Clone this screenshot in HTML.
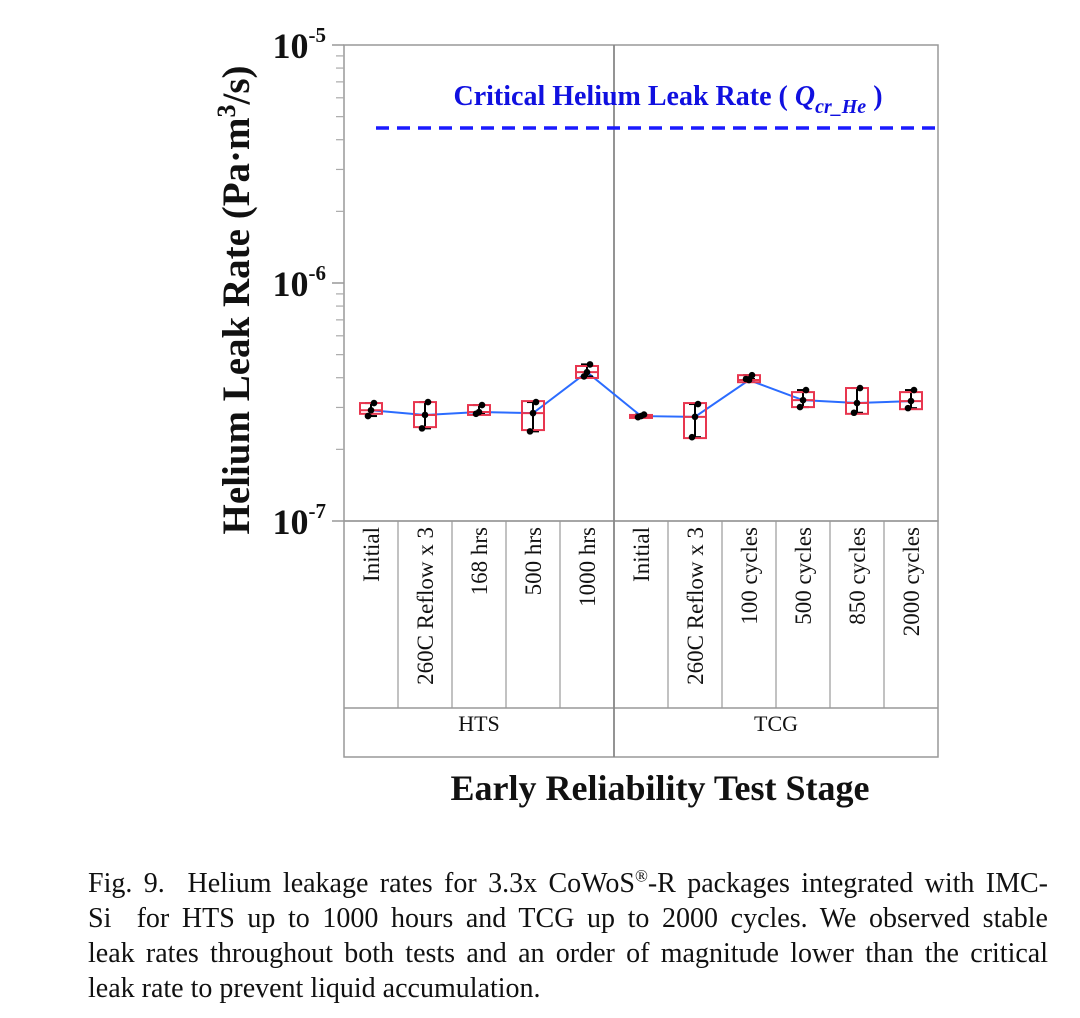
<!DOCTYPE html>
<html><head><meta charset="utf-8"><style>
body{margin:0;background:#fff;width:1080px;height:1018px;overflow:hidden;font-family:"Liberation Serif",serif}
.cap{position:absolute;left:88px;top:866px;width:960px;font-size:28px;line-height:35px;color:#111}
.cap div{text-align:justify;text-align-last:justify;white-space:nowrap}
.cap div.last{text-align-last:left}
</style></head><body>
<svg width="1080" height="860" style="position:absolute;left:0;top:0" font-family="Liberation Serif, serif">
<g id="g"></g>
</svg>
<div class="cap">
<div>Fig. 9.&nbsp; Helium leakage rates for 3.3x CoWoS<sup style="font-size:17px;line-height:0">®</sup>-R packages integrated with IMC-</div>
<div>Si&nbsp; for HTS up to 1000 hours and TCG up to 2000 cycles. We observed stable</div>
<div>leak rates throughout both tests and an order of magnitude lower than the critical</div>
<div class="last">leak rate to prevent liquid accumulation.</div>
</div>
<script>
const categories=["Initial","260C Reflow x 3","168 hrs","500 hrs","1000 hrs","Initial","260C Reflow x 3","100 cycles","500 cycles","850 cycles","2000 cycles"];
const groups=["HTS","TCG"];
const groupSizes=[5,6];
const medians=[2.92e-7,2.79e-7,2.87e-7,2.84e-7,4.22e-7,2.76e-7,2.74e-7,3.91e-7,3.22e-7,3.13e-7,3.19e-7];
const boxLow=[2.82e-7,2.48e-7,2.79e-7,2.41e-7,3.99e-7,2.71e-7,2.23e-7,3.83e-7,3.01e-7,2.82e-7,2.95e-7];
const boxHigh=[3.13e-7,3.16e-7,3.07e-7,3.19e-7,4.48e-7,2.79e-7,3.13e-7,4.10e-7,3.48e-7,3.62e-7,3.48e-7];
const pointsLow=[2.76e-7,2.45e-7,2.82e-7,2.38e-7,4.05e-7,2.73e-7,2.25e-7,3.95e-7,3.01e-7,2.85e-7,2.98e-7];
const pointsHigh=[3.13e-7,3.16e-7,3.07e-7,3.16e-7,4.55e-7,2.80e-7,3.10e-7,4.10e-7,3.55e-7,3.62e-7,3.55e-7];
const critical=4.48e-6;
const yTicks=[1e-5,1e-6,1e-7];
const yTickLabels=["-5","-6","-7"];
const L=344,R=938,T=45,B=521;
const yTop=1e-5,yBot=1e-7;
const y=v=>T+(Math.log10(yTop)-Math.log10(v))/(Math.log10(yTop)-Math.log10(yBot))*(B-T);
const bw=(R-L)/categories.length;
const x=i=>L+bw*(i+0.5);
const g=document.getElementById('g');
const NS="http://www.w3.org/2000/svg";
function el(t,a,txt){const e=document.createElementNS(NS,t);for(const k in a)e.setAttribute(k,a[k]);if(txt!==undefined)e.textContent=txt;g.appendChild(e);return e;}
let e=el('rect',{x:L,y:T,width:R-L,height:B-T,fill:'none',stroke:'#999','stroke-width':1.5});

e=el('rect',{x:L,y:B,width:R-L,height:757-B,fill:'none',stroke:'#999','stroke-width':1.5});

el('line',{x1:L,x2:R,y1:708,y2:708,stroke:'#999','stroke-width':1.5});
for(let i=0;i<categories.length;i++){
  if(i>0){el('line',{x1:L+bw*i,x2:L+bw*i,y1:B,y2:708,stroke:'#999','stroke-width':1.2});}
  const t=el('text',{x:0,y:0,'font-size':23,transform:`translate(${x(i)+8},${B+6}) rotate(-90)`,'text-anchor':'end',fill:'#111'},categories[i]);
  
}
let start=0;
groups.forEach((gn,k)=>{
  const x0=L+bw*start,x1=L+bw*(start+groupSizes[k]);
  const t=el('text',{x:(x0+x1)/2,y:731,'font-size':22,'text-anchor':'middle',fill:'#111'},gn);
  
  if(start>0){el('line',{x1:x0,x2:x0,y1:T,y2:757,stroke:'#888','stroke-width':1.8});}
  start+=groupSizes[k];
});
yTicks.forEach((v,i)=>{
  el('line',{x1:L-12,x2:L,y1:y(v),y2:y(v),stroke:'#999','stroke-width':1.5});
  const t=el('text',{x:L-18,y:y(v)+13,'font-size':36,'font-weight':'bold','text-anchor':'end',fill:'#111'});
  
  t.innerHTML='10<tspan dy="-16" font-size="21">'+yTickLabels[i]+'</tspan>';
});
for(let d=-7;d<-5;d++)for(let m=2;m<=9;m++){const v=m*Math.pow(10,d);el('line',{x1:L-8,x2:L,y1:y(v),y2:y(v),stroke:'#aaa','stroke-width':1.2});}
let t=el('text',{x:0,y:0,'font-size':39,'font-weight':'bold','text-anchor':'middle',fill:'#111',transform:'translate(249,300) rotate(-90)'});
t.innerHTML='Helium Leak Rate (Pa·m<tspan dy="-14" font-size="26">3</tspan><tspan dy="14">/s)</tspan>';

t=el('text',{x:660,y:800,'font-size':36,'font-weight':'bold','text-anchor':'middle',fill:'#111'},'Early Reliability Test Stage');

e=el('line',{x1:L+32,x2:R,y1:y(critical),y2:y(critical),stroke:'#1a1aff','stroke-width':3.5,'stroke-dasharray':'13 8'});

t=el('text',{x:668,y:105,'font-size':28,'font-weight':'bold','text-anchor':'middle',fill:'#1010e0'});
t.innerHTML='Critical Helium Leak Rate ( <tspan font-style="italic">Q</tspan><tspan font-style="italic" font-size="20" dy="8">cr_He</tspan><tspan dy="-8"> )</tspan>';

let pts=medians.map((v,i)=>x(i)+','+y(v)).join(' ');
e=el('polyline',{points:pts,fill:'none',stroke:'#2b6cff','stroke-width':2});

for(let i=0;i<categories.length;i++){
  const cx=x(i);
  el('line',{x1:cx,x2:cx,y1:y(pointsHigh[i]),y2:y(pointsLow[i]),stroke:'#000','stroke-width':2});
  el('line',{x1:cx-6,x2:cx+6,y1:y(pointsHigh[i]),y2:y(pointsHigh[i]),stroke:'#000','stroke-width':2});
  el('line',{x1:cx-6,x2:cx+6,y1:y(pointsLow[i]),y2:y(pointsLow[i]),stroke:'#000','stroke-width':2});
  e=el('rect',{x:cx-11,y:y(boxHigh[i]),width:22,height:Math.max(3,y(boxLow[i])-y(boxHigh[i])),fill:'none',stroke:'#e8364f','stroke-width':2});
  
  el('line',{x1:cx-11,x2:cx+11,y1:y(medians[i]),y2:y(medians[i]),stroke:'#e8364f','stroke-width':2});
  [[cx+3,pointsHigh[i]],[cx,medians[i]],[cx-3,pointsLow[i]]].forEach(p=>{
    e=el('circle',{cx:p[0],cy:y(p[1]),r:3.3,fill:'#000'});
    
  });
}
</script>
</body></html>
